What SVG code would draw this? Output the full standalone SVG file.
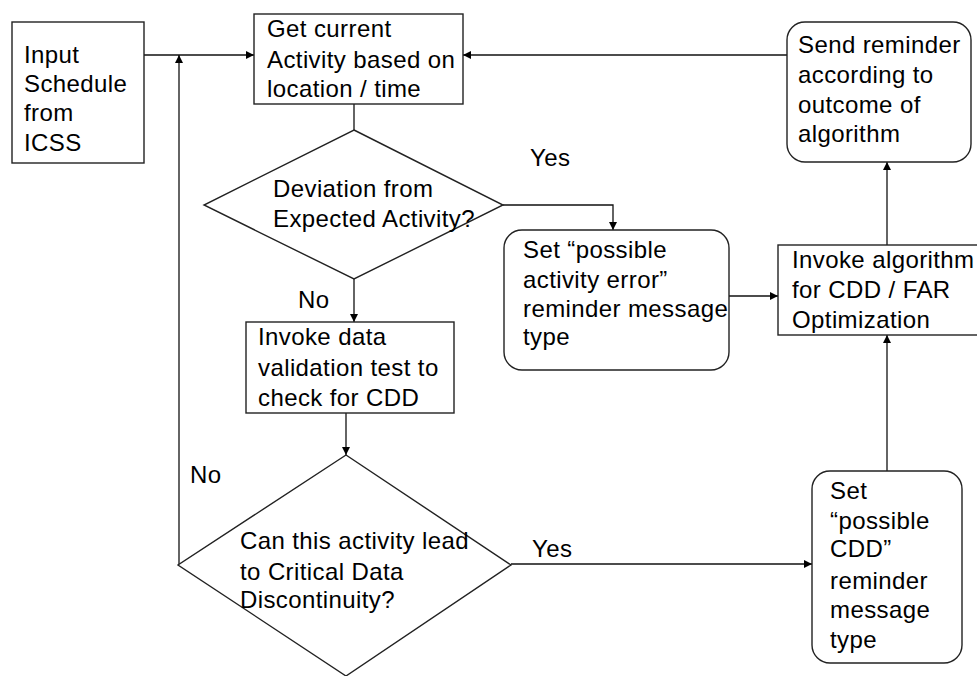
<svg xmlns="http://www.w3.org/2000/svg" width="977" height="676" viewBox="0 0 977 676">
<defs>
<marker id="ah" viewBox="0 0 10 10" refX="10" refY="5" markerWidth="8" markerHeight="8" markerUnits="userSpaceOnUse" orient="auto">
<path d="M0,0 L10,5 L0,10 z" fill="#000"/>
</marker>
<style>
.shape{fill:#fff;stroke:#222;stroke-width:1.4}
.t{font-family:"Liberation Sans",Arial,sans-serif;font-size:24px;letter-spacing:0.4px;fill:#000}
.c{fill:none;stroke:#111;stroke-width:1.3}
.ca{fill:none;stroke:#111;stroke-width:1.3;marker-end:url(#ah)}
</style>
</defs>
<rect width="977" height="676" fill="#fff"/>
<g id="connectors">
<path class="ca" d="M144,55 L254,55"/>
<path class="ca" d="M179,565 L179,55"/>
<path class="ca" d="M787,55 L463,55"/>
<path class="c" d="M354,104 L354,130"/>
<path class="ca" d="M503,205 L613,205 L613,230"/>
<path class="ca" d="M354,279 L354,322"/>
<path class="ca" d="M729,296 L778,296"/>
<path class="ca" d="M887,245 L887,162"/>
<path class="ca" d="M887,471 L887,335"/>
<path class="ca" d="M346,413 L346,455"/>
<path class="ca" d="M511,564 L812,564"/>
<text class="t" x="530" y="166">Yes</text>
<text class="t" x="298" y="308">No</text>
<text class="t" x="190" y="483">No</text>
<text class="t" x="532" y="557">Yes</text>
</g>
<g id="input">
<rect class="shape" x="12" y="22" width="132" height="141"/>
<text class="t" x="24" y="63">Input</text>
<text class="t" x="24" y="92">Schedule</text>
<text class="t" x="24" y="121">from</text>
<text class="t" x="24" y="151">ICSS</text>
</g>
<g id="getcurrent">
<rect class="shape" x="254" y="14" width="209" height="90"/>
<text class="t" x="267" y="37">Get current</text>
<text class="t" x="267" y="68">Activity based on</text>
<text class="t" x="267" y="97">location / time</text>
</g>
<g id="deviation">
<polygon class="shape" points="354,130 503,205 354,279 204,205"/>
<text class="t" x="273" y="197">Deviation from</text>
<text class="t" x="273" y="227">Expected Activity?</text>
</g>
<g id="seterror">
<rect class="shape" x="504" y="230" width="225" height="140" rx="18"/>
<text class="t" x="523" y="258">Set “possible</text>
<text class="t" x="523" y="288">activity error”</text>
<text class="t" x="523" y="317">reminder message</text>
<text class="t" x="523" y="345">type</text>
</g>
<g id="invokealgo">
<rect class="shape" x="778" y="245" width="205" height="90"/>
<text class="t" x="792" y="268">Invoke algorithm</text>
<text class="t" x="792" y="298">for CDD / FAR</text>
<text class="t" x="792" y="328">Optimization</text>
</g>
<g id="sendreminder">
<rect class="shape" x="787" y="22" width="184" height="140" rx="18"/>
<text class="t" x="798" y="53">Send reminder</text>
<text class="t" x="798" y="83">according to</text>
<text class="t" x="798" y="113">outcome of</text>
<text class="t" x="798" y="142">algorithm</text>
</g>
<g id="validation">
<rect class="shape" x="246" y="322" width="208" height="91"/>
<text class="t" x="258" y="345">Invoke data</text>
<text class="t" x="258" y="376">validation test to</text>
<text class="t" x="258" y="406">check for CDD</text>
</g>
<g id="cdddecision">
<polygon class="shape" points="346,455 511,565 346,676 178,565"/>
<text class="t" x="240" y="549">Can this activity lead</text>
<text class="t" x="240" y="580">to Critical Data</text>
<text class="t" x="240" y="608">Discontinuity?</text>
</g>
<g id="setcdd">
<rect class="shape" x="812" y="471" width="150" height="192" rx="18"/>
<text class="t" x="830" y="499">Set</text>
<text class="t" x="830" y="529">“possible</text>
<text class="t" x="830" y="557">CDD”</text>
<text class="t" x="830" y="589">reminder</text>
<text class="t" x="830" y="618">message</text>
<text class="t" x="830" y="648">type</text>
</g>
</svg>
